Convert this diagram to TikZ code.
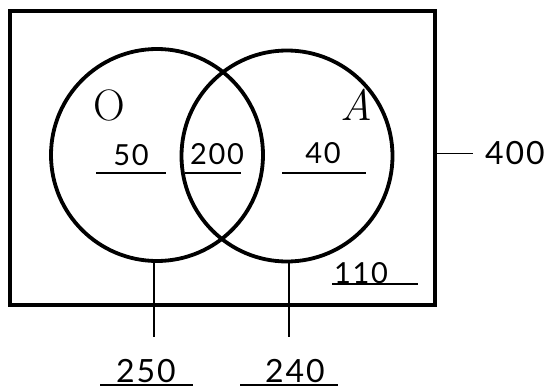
\documentclass[tikz,border=0pt]{standalone}
\usepackage{fontspec}
\newfontfamily\hand[LetterSpace=6]{Lato}
\begin{document}
\begin{tikzpicture}[x=1pt,y=-1pt,
  frame/.style={draw, line width=3.5pt, inner sep=0pt, minimum width=425pt, minimum height=294pt},
  setc/.style={draw, circle, line width=3.8pt, inner sep=0pt},
  num/.style={font=\hand\fontsize{29}{29}\selectfont, inner sep=0pt, text depth=0pt, anchor=base},
  bignum/.style={num, font=\hand\fontsize{32}{32}\selectfont},
  uline/.style={line width=1.3pt},
  tick/.style={line width=1.3pt},
  letter/.style={font=\fontsize{44}{44}\selectfont, inner sep=0pt}]
\useasboundingbox (0,0) rectangle (552,388);
\node[frame] (U) at (222.5,158) {};
\node[setc, minimum size=212pt] (O) at (157,155) {};
\node[setc, minimum size=211pt] (A) at (287,156) {};
\node[letter] (lO) at (109,105) {O};
\node[letter, font=\itshape\fontsize{44}{44}\selectfont] (lA) at (356,105) {A};
% region counts
\node[num] (n50) at (131,165) {50};
\node[num] (n200) at (217,164) {200};
\node[num] (n40) at (323,163) {40};
\node[num] (n110) at (361,283) {110};
\node[bignum] (n400) at (515,164) {400};
\node[bignum] (n250) at (146,382) {250};
\node[bignum] (n240) at (295,382) {240};
% underlines
\draw[uline] (96,173) -- (166,173);
\draw[uline] (185,173) -- (241,173);
\draw[uline] (282,173) -- (366,173);
\draw[uline] (332,284) -- (418,284);
\draw[uline] (100,385) -- (193,385);
\draw[uline] (240,385) -- (338,385);
% connectors
\coordinate (endO) at (154,337);
\coordinate (endA) at (289,337);
\coordinate (end400) at (473,153);
\draw[tick] (O.south -| endO) -- (endO);
\draw[tick] (A.south -| endA) -- (endA);
\draw[line width=1pt] (U.east |- end400) -- (end400);
\end{tikzpicture}
\end{document}
